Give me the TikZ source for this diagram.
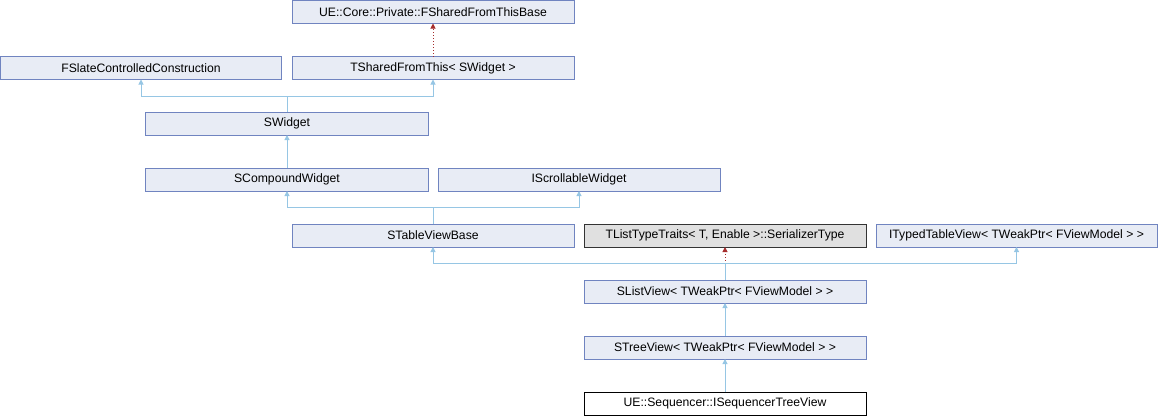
\documentclass[tikz,border=0pt]{standalone}
\usepackage{fontspec}
\setmainfont{Liberation Sans}
\usetikzlibrary{arrows.meta}
\definecolor{boxfill}{RGB}{232,236,245}
\definecolor{boxline}{RGB}{112,132,192}
\definecolor{edgeblue}{RGB}{150,198,228}
\definecolor{edgered}{RGB}{165,45,45}
\definecolor{grayfill}{RGB}{224,224,224}
\tikzset{
  cls/.style={draw=boxline, fill=boxfill, line width=1bp, minimum width=282bp, minimum height=23bp, inner sep=0pt, outer sep=0pt, font=\fontsize{12.2bp}{14bp}\selectfont, text=black},
  grayc/.style={cls, draw=black!80, fill=grayfill},
  whitec/.style={cls, draw=black, fill=white},
  inh/.style={draw=edgeblue, line width=1bp, -{Triangle[width=5bp,length=5bp]}},
  tpl/.style={draw=edgered, line width=1bp, dotted, -{Triangle[width=5bp,length=5bp,fill=edgered]}},
}
\begin{document}
\begin{tikzpicture}[x=1bp,y=-1bp]
\useasboundingbox (0,0) rectangle (1158,416);
\node[cls] (base) at (433,12) {UE::Core::Private::FSharedFromThisBase};
\node[cls] (tsft) at (433,68) {TSharedFromThis< SWidget >};
\node[cls, minimum width=281bp] (fslate) at (141,68) {FSlateControlledConstruction};
\node[cls] (swidget) at (287,123.5) {SWidget};
\node[cls] (scomp) at (287,179.5) {SCompoundWidget};
\node[cls] (iscroll) at (579,179.5) {IScrollableWidget};
\node[cls] (stable) at (433,235.5) {STableViewBase};
\node[grayc] (tlist) at (725,235.5) {TListTypeTraits< T, Enable >::SerializerType};
\node[cls, minimum width=281bp] (ityped) at (1016.5,235.5) {ITypedTableView< TWeakPtr< FViewModel > >};
\node[cls] (slist) at (725,291.5) {SListView< TWeakPtr< FViewModel > >};
\node[cls] (stree) at (725,347.5) {STreeView< TWeakPtr< FViewModel > >};
\node[whitec] (seq) at (725,403.5) {UE::Sequencer::ISequencerTreeView};
\coordinate (j1) at (287,96);
\coordinate (j2) at (433,207.5);
\coordinate (j3) at (725,263.5);
% template edges
\draw[tpl] (tsft.north) -- (base.south);
\draw[tpl] (j3) -- (tlist.south);
% inheritance
\draw[inh] (swidget.north) -- (j1) -| (fslate.south);
\draw[inh] (j1) -| (tsft.south);
\draw[inh] (scomp.north) -- (swidget.south);
\draw[inh] (stable.north) -- (j2) -| (scomp.south);
\draw[inh] (j2) -| (iscroll.south);
\draw[draw=edgeblue, line width=1bp] (slist.north) -- (j3);
\draw[inh] (j3) -| (stable.south);
\draw[inh] (j3) -| (ityped.south);
\draw[inh] (stree.north) -- (slist.south);
\draw[inh] (seq.north) -- (stree.south);
\end{tikzpicture}
\end{document}
